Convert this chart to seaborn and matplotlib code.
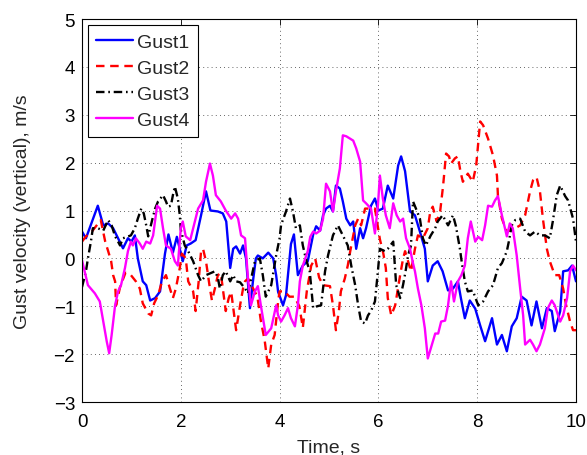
import matplotlib
matplotlib.use("Agg")
import matplotlib.pyplot as plt
import seaborn as sns
import numpy as np

# ---------------- data ----------------
t1 = [0.0,0.08,0.32,0.43,0.53,0.63,0.73,0.83,0.93,1.0,1.07,1.13,1.23,1.3,1.38,1.48,1.58,1.68,1.75,1.84,1.92,
      2.04,2.12,2.2,2.3,2.41,2.51,2.6,2.75,2.85,2.92,3.0,3.06,3.12,3.2,3.26,3.32,3.4,3.46,3.52,3.56,3.66,3.77,3.87,
      3.93,3.97,4.07,4.13,4.23,4.29,4.37,4.47,4.57,4.68,4.74,4.82,4.88,4.94,5.02,5.08,5.14,5.22,5.28,5.35,5.43,5.49,
      5.55,5.63,5.69,5.75,5.85,5.93,6.0,6.09,6.19,6.3,6.4,6.46,6.54,6.64,6.74,6.84,6.94,7.0,7.1,7.2,7.3,7.41,7.51,
      7.61,7.67,7.75,7.85,7.96,8.06,8.16,8.3,8.4,8.5,8.6,8.7,8.8,8.9,9.0,9.1,9.2,9.31,9.41,9.51,9.57,9.68,9.74,9.84,
      9.92,10.0]
gust1 = [0.56,0.42,1.1,0.69,0.73,0.63,0.42,0.21,0.42,0.35,0.48,0.0,-0.48,-0.56,-0.88,-0.83,-0.69,0.1,0.5,0.12,0.45,
         -0.06,0.27,0.31,0.38,0.9,1.4,1.0,0.98,0.94,0.77,-0.2,0.2,0.25,0.1,0.27,0.0,-1.04,-0.48,0.0,0.06,0.0,0.12,0.0,
         -0.35,-0.7,-0.98,-0.77,0.3,0.5,-0.35,-0.15,-0.06,0.5,0.67,0.58,0.9,1.04,1.1,0.98,1.52,1.46,1.19,0.83,0.69,0.77,
         0.2,0.63,0.42,0.63,1.1,1.25,1.0,1.04,1.52,1.25,1.94,2.13,1.82,0.98,0.9,0.56,0.2,-0.48,-0.15,-0.06,-0.27,-0.67,-0.63,
         -0.48,-0.83,-1.25,-0.88,-1.05,-1.4,-1.73,-1.25,-1.8,-1.6,-1.94,-1.42,-1.25,-0.8,-0.88,-1.4,-0.9,-1.46,-1.04,-1.1,
         -1.52,-1.1,-0.27,-0.25,-0.15,-0.48]

t2 = [0.0,0.08,0.2,0.38,0.47,0.53,0.59,0.63,0.67,0.69,0.77,0.88,0.99,1.09,1.17,1.23,1.34,1.4,1.46,1.54,1.62,1.7,
      1.78,1.84,1.9,1.98,2.02,2.1,2.15,2.25,2.3,2.36,2.41,2.45,2.51,2.59,2.63,2.69,2.75,2.81,2.91,2.97,3.02,3.12,3.2,
      3.26,3.3,3.36,3.45,3.55,3.62,3.7,3.77,3.83,3.9,3.97,4.0,4.1,4.2,4.3,4.4,4.47,4.55,4.64,4.72,4.8,4.88,5.02,5.08,
      5.14,5.2,5.24,5.32,5.38,5.43,5.53,5.59,5.65,5.73,5.83,5.93,6.03,6.1,6.15,6.19,6.26,6.34,6.44,6.5,6.54,6.6,6.66,
      6.74,6.8,6.9,7.0,7.05,7.1,7.18,7.25,7.31,7.37,7.43,7.47,7.55,7.61,7.66,7.71,7.81,7.91,7.98,8.06,8.12,8.22,8.32,
      8.4,8.42,8.5,8.6,8.7,8.77,8.87,8.97,9.07,9.13,9.2,9.27,9.33,9.41,9.47,9.57,9.66,9.74,9.8,9.88,9.94,10.0]
gust2 = [0.35,0.46,0.56,0.8,0.35,0.15,-0.06,-0.35,-0.48,-0.98,-0.6,-0.3,-0.35,-0.48,-0.63,-0.94,-1.15,-1.19,-0.94,
         -0.77,-0.48,-0.35,-0.63,-0.83,-0.63,-0.2,0.1,0.0,-0.48,-0.69,-1.1,-0.5,0.15,0.2,-0.06,-0.63,-0.88,-0.63,-0.35,
         -0.31,-1.1,-0.83,-0.7,-1.5,-0.98,-0.63,-0.48,-0.42,-0.6,-0.8,-1.3,-1.73,-2.3,-1.8,-1.6,-0.9,-0.69,-0.69,-0.8,
         -0.8,-1.0,-1.45,-0.69,-0.15,0.0,-0.4,-0.56,-0.58,-0.98,-1.5,-1.1,-0.69,-0.42,-0.15,0.15,0.69,0.83,0.69,1.04,
         1.04,1.04,0.4,0.1,-0.2,-0.83,-1.19,-0.98,-0.35,0.0,0.15,-0.06,-0.27,0.2,0.48,0.42,0.63,0.98,1.08,0.77,0.98,1.52,
         2.19,2.13,1.98,2.09,2.13,1.82,1.6,1.77,1.6,1.94,2.86,2.78,2.5,2.15,1.73,1.3,0.83,0.56,0.6,0.63,0.69,0.9,1.4,1.63,
         1.7,1.4,0.83,0.2,-0.06,-0.35,-0.35,-0.63,-0.98,-1.32,-1.5,-1.5]

t3 = [0.0,0.08,0.12,0.18,0.22,0.32,0.43,0.53,0.6,0.67,0.73,0.77,0.83,0.99,1.07,1.13,1.2,1.25,1.3,1.34,1.42,1.48,
      1.54,1.64,1.7,1.74,1.8,1.84,1.88,1.94,1.98,2.0,2.08,2.15,2.25,2.35,2.41,2.51,2.6,2.69,2.75,2.79,2.85,2.91,3.0,
      3.06,3.12,3.2,3.3,3.36,3.5,3.6,3.66,3.72,3.83,3.93,4.0,4.03,4.13,4.21,4.27,4.33,4.41,4.47,4.53,4.61,4.68,4.76,
      4.84,4.92,4.98,5.08,5.18,5.28,5.38,5.45,5.53,5.59,5.65,5.73,5.79,5.85,5.93,5.99,6.03,6.13,6.19,6.3,6.36,6.44,
      6.5,6.55,6.6,6.66,6.7,6.76,6.84,6.9,6.96,7.06,7.15,7.2,7.3,7.41,7.51,7.57,7.65,7.69,7.75,7.81,7.91,8.02,8.12,
      8.22,8.32,8.42,8.5,8.6,8.64,8.7,8.77,8.87,8.97,9.07,9.17,9.27,9.37,9.47,9.53,9.61,9.68,9.78,9.84,9.94,10.0]
gust3 = [-0.6,-0.27,0.0,0.35,0.63,0.63,0.58,0.8,0.69,0.46,0.35,0.27,0.42,0.48,0.63,0.83,1.04,0.94,0.69,0.46,0.8,1.04,
         1.19,1.32,1.19,1.08,1.1,1.32,1.5,1.25,0.9,0.6,0.27,0.15,-0.06,-0.35,-0.48,-0.35,-0.31,-0.27,-0.4,-0.63,-0.35,
         -0.27,-0.48,-0.35,-0.48,-0.5,-0.63,-0.73,-0.06,0.0,-0.35,-0.8,-0.56,0.06,0.42,0.7,0.98,1.25,0.98,0.63,0.69,0.27,
         0.0,-0.27,-1.04,-1.0,-0.98,-0.27,0.06,0.48,0.69,0.48,0.27,-0.15,-0.56,-0.98,-1.32,-1.36,-1.19,-1.1,-0.9,-0.27,
         0.2,0.15,0.2,0.35,-0.56,-0.83,-0.55,-0.27,0.06,0.27,1.19,1.04,0.83,0.42,0.27,0.48,0.63,0.77,0.9,0.69,0.9,0.67,
         0.2,-0.1,-0.48,-0.69,-0.67,-0.98,-0.9,-0.69,-0.56,-0.2,-0.1,0.15,0.35,0.69,0.8,0.83,0.56,0.48,0.56,0.48,0.48,
         0.42,0.77,1.32,1.52,1.3,1.21,0.83,0.35]

t4 = [0.0,0.12,0.26,0.36,0.43,0.5,0.55,0.6,0.67,0.73,0.79,0.87,0.93,0.99,1.03,1.09,1.17,1.23,1.3,1.38,1.44,1.52,1.58,
      1.64,1.7,1.8,1.88,1.94,2.0,2.04,2.1,2.19,2.25,2.35,2.45,2.51,2.59,2.65,2.71,2.81,2.91,3.02,3.1,3.16,3.22,3.3,
      3.36,3.42,3.5,3.56,3.62,3.72,3.83,3.93,3.97,4.03,4.1,4.17,4.23,4.31,4.37,4.41,4.47,4.57,4.62,4.68,4.74,4.82,
      4.88,4.94,5.02,5.08,5.14,5.22,5.28,5.35,5.43,5.49,5.55,5.63,5.69,5.75,5.85,5.93,5.99,6.03,6.09,6.15,6.23,6.3,
      6.37,6.44,6.5,6.56,6.64,6.7,6.74,6.8,6.87,6.94,7.0,7.06,7.15,7.21,7.27,7.35,7.41,7.47,7.53,7.61,7.68,7.75,7.81,
      7.87,7.96,8.02,8.1,8.16,8.22,8.3,8.36,8.42,8.5,8.6,8.66,8.72,8.8,8.87,8.93,8.97,9.07,9.13,9.2,9.27,9.37,9.43,
      9.51,9.57,9.68,9.74,9.82,9.88,9.94,10.0]
gust4 = [-0.04,-0.56,-0.73,-0.9,-1.32,-1.73,-1.98,-1.6,-0.98,-0.69,-0.56,-0.2,0.15,0.35,0.27,0.42,0.31,0.2,0.35,0.31,
         0.48,1.1,1.04,0.63,0.27,0.2,-0.06,-0.15,0.63,0.77,0.46,0.38,0.63,1.04,1.21,1.6,1.98,1.73,1.32,1.19,1.0,0.83,
         0.94,0.83,0.48,0.42,-0.42,-0.98,-0.69,-0.58,-0.98,-1.6,-1.46,-0.98,-1.19,-1.32,-1.19,-1.04,-1.25,-1.42,-0.98,
         -0.48,-0.15,0.15,0.45,0.56,0.52,0.58,0.83,1.56,1.4,0.98,1.4,1.88,2.57,2.55,2.5,2.46,2.3,2.02,1.21,1.15,1.04,
         0.52,1.1,1.73,1.25,0.9,0.63,1.15,0.9,0.77,0.83,0.42,0.2,-0.1,-0.27,-0.63,-0.98,-1.46,-2.09,-1.88,-1.57,-1.57,
         -1.32,-1.3,-0.98,-0.48,-0.9,-0.48,-0.35,-0.15,0.42,0.77,0.35,0.45,0.38,0.69,1.1,1.08,1.21,1.3,0.9,0.46,0.73,
         0.63,0.06,-0.63,-1.19,-1.8,-1.7,-1.8,-1.94,-1.8,-1.46,-1.04,-0.88,-0.98,-1.32,-1.19,-0.83,-0.27,-0.15,-0.25]

labels = ["Gust1", "Gust2", "Gust3", "Gust4"]
x_ticks = [0, 2, 4, 6, 8, 10]
y_ticks = [-3, -2, -1, 0, 1, 2, 3, 4, 5]

# ---------------- style ----------------
sns.set_theme(style="white")
plt.rcParams["font.family"] = ["Liberation Sans", "DejaVu Sans"]
plt.rcParams["xtick.direction"] = "in"
plt.rcParams["ytick.direction"] = "in"

fig = plt.figure(figsize=(5.87, 4.56), dpi=100)
ax = fig.add_axes([82/587, 1-403/456, (576-82)/587, (403-20)/456])

series = [(t1, gust1, "#0000ff", None),
          (t2, gust2, "#ff0000", (3.6, 2.4)),
          (t3, gust3, "#000000", (3.6, 1.6, 0.7, 1.6)),
          (t4, gust4, "#ff00ff", None)]
for (tt, vv, col, dsh), lab in zip(series, labels):
    sns.lineplot(x=tt, y=vv, ax=ax, color=col, linewidth=1.7, label=lab, sort=False,
                 estimator=None)
    ln = ax.lines[-1]
    ln.set_solid_joinstyle("round")
    if dsh is not None:
        ln.set_dashes(dsh)

ax.set_xlim(0, 10)
ax.set_ylim(-3, 5)
ax.set_xticks(x_ticks)
ax.set_yticks(y_ticks)
ax.set_xticklabels([str(v) for v in x_ticks], fontsize=13.5)
ax.set_yticklabels([str(v).replace("-", "\u2212") for v in y_ticks], fontsize=13.5)
ax.tick_params(axis="both", which="both", top=True, right=True, length=4, width=0.6,
               color="black", labelcolor="black")
ax.tick_params(axis="x", pad=8)
ax.tick_params(axis="y", pad=5)
ax.grid(True, color="black", linestyle=(0, (1, 4)), linewidth=0.6, alpha=0.8)
for s in ax.spines.values():
    s.set_color("black")
    s.set_linewidth(0.8)
ax.set_xlabel("Time, s", fontsize=14, labelpad=6)
ax.set_ylabel("Gust velocity (vertical), m/s", fontsize=14, labelpad=16)

leg = ax.legend(loc="upper left", fontsize=14, frameon=True, fancybox=False,
                framealpha=1, edgecolor="black", handlelength=1.9, handletextpad=0.2,
                labelspacing=0.43, borderpad=0.42, borderaxespad=0.32)
leg.get_frame().set_linewidth(0.8)

fig.savefig("out.png", dpi=100, facecolor="white")
